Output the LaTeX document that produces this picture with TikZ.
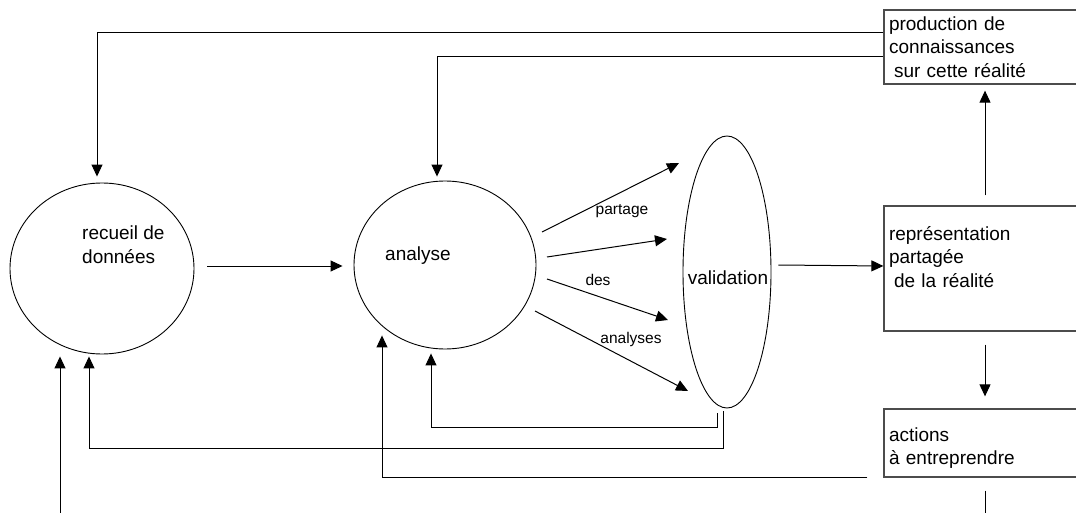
\documentclass[tikz,border=0pt]{standalone}
\usepackage{fontspec}
\setmainfont{Liberation Sans}
\usetikzlibrary{arrows.meta,shapes.geometric}

\begin{document}
\begin{tikzpicture}[x=1pt, y=1pt,
	bulle/.style={ellipse, draw, line width=0.9pt, inner sep=0pt},
	boite/.style={rectangle, draw=black!70, line width=1.3pt, minimum width=202pt, text width=192pt, inner sep=5pt, align=left, font=\fontsize{19}{23.5}\selectfont},
	texte/.style={align=left, inner sep=0pt, font=\fontsize{19}{23.5}\selectfont},
	petit/.style={inner sep=0pt, font=\fontsize{15.5}{18}\selectfont},
	fleche/.style={-{Triangle[length=12pt,width=11pt]}, line width=1pt}]
\useasboundingbox (0,0) rectangle (1076,-513);

\node[bulle, minimum width=184pt, minimum height=171pt] (recueil) at (102,-268.5) {};
\node[bulle, minimum width=182pt, minimum height=168pt] (analyse) at (445,-265) {};
\node[bulle, minimum width=88pt, minimum height=272pt] (valid) at (727,-272) {};

\node[texte, anchor=west] (recueil-txt) at (82,-244.5) {recueil de\\données};
\node[texte, anchor=west] (analyse-txt) at (385,-256) {analyse};
\node[texte] (valid-txt) at (728,-278) {validation};

\node[boite, minimum height=74pt] (prod) at (985,-47) {production de\\connaissances\\\hspace*{5pt}sur cette réalité};
\node[boite, minimum height=125pt] (rep) at (985,-268.5) {représentation\\partagée\\\hspace*{5pt}de la réalité\\~};
\node[boite, minimum height=68pt] (actions) at (985,-443) {~\\actions\\à entreprendre};

\coordinate (f1a) at (542,-232); \coordinate (f1b) at (679,-163);
\coordinate (f2a) at (547,-257); \coordinate (f2b) at (667,-239);
\coordinate (f3a) at (547,-279); \coordinate (f3b) at (668,-320);
\coordinate (f4a) at (535,-311); \coordinate (f4b) at (688,-391);
\coordinate (entree) at (60,-530);

\draw[fleche] (f1a) -- (f1b);
\draw[fleche] (f2a) -- (f2b);
\draw[fleche] (f3a) -- (f3b);
\draw[fleche] (f4a) -- (f4b);

\node[petit] (lbl-partage) at (622,-211) {partage};
\node[petit] (lbl-des) at (598,-280) {des};
\node[petit] (lbl-analyses) at (631,-339) {analyses};

\draw[fleche] ([shift={(13,2.5)}]recueil.east) -- ([shift={(-11,-1)}]analyse.west);
\draw[fleche] ([shift={(7,7)}]valid.east) -- ([yshift=2.5]rep.west);
\draw[fleche] ([yshift=10]rep.north) -- ([yshift=-6]prod.south);
\draw[fleche] ([yshift=-13]rep.south) -- ([yshift=12]actions.north);
\draw[line width=1pt] ([yshift=-13]actions.south) -- ++(0,-40);
\draw[fleche] (entree) -- ([shift={(-42,-2)}]recueil.south);

\draw[fleche] ([yshift=14]prod.west) -| ([shift={(-5,6)}]recueil.north);
\draw[fleche] ([yshift=-10]prod.west) -| ([shift={(-8,4)}]analyse.north);
\draw[fleche] ([shift={(-10,-5)}]valid.south) -- ++(0,-14) -| ([shift={(-14,-4)}]analyse.south);
\draw[fleche] ([shift={(-4,-3)}]valid.south) -- ++(0,-37) -| ([shift={(-13,-2)}]recueil.south);
\draw[fleche] ([xshift=-16]actions.south west) -| ([shift={(-63,14)}]analyse.south);

\end{tikzpicture}
\end{document}
